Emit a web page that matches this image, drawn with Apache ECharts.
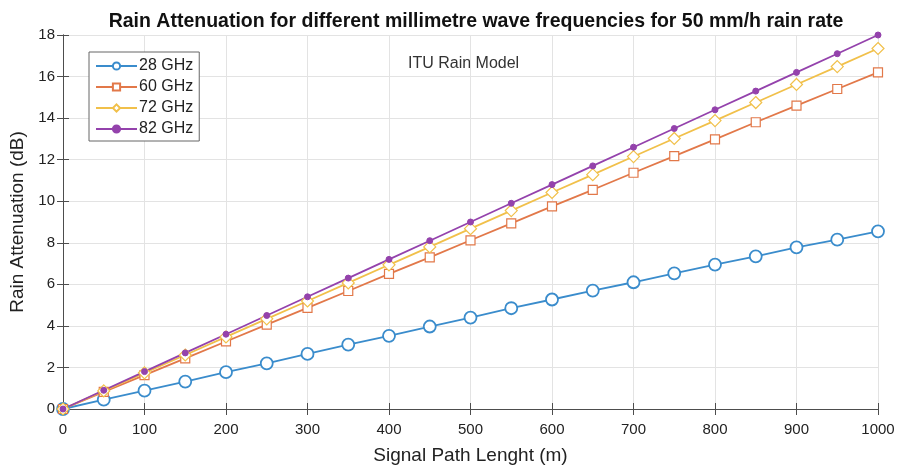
<!DOCTYPE html>
<html>
<head>
<meta charset="utf-8">
<script src="https://cdn.jsdelivr.net/npm/echarts@6/dist/echarts.min.js"></script>
<style>
  html, body { margin: 0; padding: 0; background: #fff; }
  #chart { width: 901px; height: 465px; }
</style>
</head>
<body>
<div id="chart"></div>
<script>
// path length (m)
var pathLen = [0, 50, 100, 150, 200, 250, 300, 350, 400, 450, 500, 550, 600, 650, 700, 750, 800, 850, 900, 950, 1000];
// attenuation (dB)
var att28 = [0, 0.45, 0.88, 1.32, 1.77, 2.2, 2.65, 3.1, 3.52, 3.97, 4.4, 4.85, 5.27, 5.7, 6.1, 6.53, 6.95, 7.35, 7.78, 8.15, 8.55];
var att60 = [0, 0.82, 1.63, 2.44, 3.25, 4.06, 4.87, 5.68, 6.5, 7.3, 8.12, 8.93, 9.75, 10.55, 11.37, 12.17, 12.98, 13.8, 14.6, 15.4, 16.2];
var att72 = [0, 0.87, 1.74, 2.6, 3.47, 4.34, 5.2, 6.07, 6.94, 7.8, 8.68, 9.55, 10.42, 11.28, 12.15, 13.02, 13.88, 14.75, 15.62, 16.48, 17.35];
var att82 = [0, 0.9, 1.8, 2.7, 3.6, 4.5, 5.4, 6.3, 7.2, 8.1, 9.0, 9.9, 10.8, 11.7, 12.6, 13.5, 14.4, 15.3, 16.2, 17.1, 18.0];
var xTicks = [0, 100, 200, 300, 400, 500, 600, 700, 800, 900, 1000];
var yTicks = [0, 2, 4, 6, 8, 10, 12, 14, 16, 18];

function pairs(ys) {
  return pathLen.map(function (x, i) { return [x, ys[i]]; });
}

var font = 'Liberation Sans, Arial, sans-serif';
var myChart = echarts.init(document.getElementById('chart'));

var commonAxis = {
  axisLine: { show: true, lineStyle: { color: '#4d4d4d', width: 1 } },
  axisTick: { show: true, inside: true, length: 6, lineStyle: { color: '#4d4d4d' } },
  splitLine: { show: true, lineStyle: { color: '#e3e3e3', width: 1 } }
};

myChart.setOption({
  backgroundColor: '#fff',
  animation: false,
  title: {
    text: 'Rain Attenuation for different millimetre wave frequencies for 50 mm/h rain rate',
    left: 471, top: 7, textAlign: 'center',
    textStyle: { fontFamily: font, fontSize: 19.5, fontWeight: 'bold', color: '#111' }
  },
  grid: { left: 63, right: 23, top: 35, bottom: 56, outerBoundsMode: 'none' },
  legend: {
    orient: 'vertical',
    left: 89, top: 52,
    itemGap: 3,
    itemWidth: 41, itemHeight: 9,
    padding: [5, 6, 3, 6],
    borderColor: '#666', borderWidth: 1,
    backgroundColor: '#fff',
    textStyle: { fontFamily: font, fontSize: 16, color: '#222', lineHeight: 18, padding: [0, 0, 0, -3] },
    data: ['28 GHz', '60 GHz', '72 GHz', '82 GHz']
  },
  graphic: [{
    type: 'text', left: 408, top: 56,
    style: { text: 'ITU Rain Model', font: '16px ' + font, fill: '#333' }
  }],
  xAxis: [
    Object.assign({}, commonAxis, {
      type: 'value', min: 0, max: 1000, interval: 100,
      name: 'Signal Path Lenght (m)', nameLocation: 'middle', nameGap: 37,
      nameTextStyle: { fontFamily: font, fontSize: 19, color: '#222' },
      axisLabel: { fontFamily: font, fontSize: 15, color: '#222', margin: 13,
        formatter: function (v) { return xTicks.indexOf(v) >= 0 ? String(v) : ''; } }
    }),
    {
      type: 'value', position: 'top', min: 0, max: 1000, interval: 100,
      axisLine: { show: true, lineStyle: { color: '#4d4d4d' } },
      axisTick: { show: true, inside: true, length: 6, lineStyle: { color: '#4d4d4d' } },
      axisLabel: { show: false }, splitLine: { show: false }
    }
  ],
  yAxis: [
    Object.assign({}, commonAxis, {
      type: 'value', min: 0, max: 18, interval: 2,
      name: 'Rain Attenuation (dB)', nameLocation: 'middle', nameGap: 32,
      nameTextStyle: { fontFamily: font, fontSize: 19, color: '#222' },
      axisLabel: { fontFamily: font, fontSize: 15, color: '#222', margin: 8,
        formatter: function (v) { return yTicks.indexOf(v) >= 0 ? String(v) : ''; } }
    }),
    {
      type: 'value', position: 'right', min: 0, max: 18, interval: 2,
      axisLine: { show: true, lineStyle: { color: '#4d4d4d' } },
      axisTick: { show: true, inside: true, length: 6, lineStyle: { color: '#4d4d4d' } },
      axisLabel: { show: false }, splitLine: { show: false }
    }
  ],
  series: [
    {
      name: '28 GHz', type: 'line', data: pairs(att28),
      symbol: 'circle', symbolSize: 12, showAllSymbol: true,
      lineStyle: { color: '#3a8ccc', width: 1.8 },
      itemStyle: { color: '#fff', borderColor: '#3a8ccc', borderWidth: 1.8 }
    },
    {
      name: '60 GHz', type: 'line', data: pairs(att60),
      symbol: 'rect', symbolSize: 9, showAllSymbol: true,
      lineStyle: { color: '#e27849', width: 1.8 },
      itemStyle: { color: '#fff', borderColor: '#e27849', borderWidth: 1.2 }
    },
    {
      name: '72 GHz', type: 'line', data: pairs(att72),
      symbol: 'diamond', symbolSize: 12, showAllSymbol: true,
      lineStyle: { color: '#f1c04a', width: 1.8 },
      itemStyle: { color: '#fff', borderColor: '#f1c04a', borderWidth: 1.2 }
    },
    {
      name: '82 GHz', type: 'line', data: pairs(att82),
      symbol: 'circle', symbolSize: 6, showAllSymbol: true,
      lineStyle: { color: '#9442ac', width: 1.8 },
      itemStyle: { color: '#9442ac', borderColor: '#9442ac', borderWidth: 1 }
    }
  ]
});
window.addEventListener('resize', function () { myChart.resize(); });
</script>
</body>
</html>
